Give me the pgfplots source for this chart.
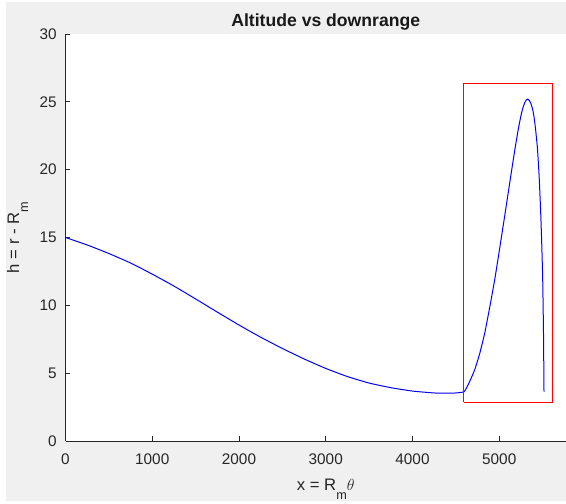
\documentclass[border=0pt]{standalone}
\usepackage{pgfplots}
\pgfplotsset{compat=1.18}
\usepackage{fontspec}
\setmainfont{Liberation Sans}

\definecolor{figbg}{HTML}{F0F0F0}
\definecolor{axink}{HTML}{262626}
\definecolor{trajblue}{HTML}{0000FF}
\definecolor{boxred}{HTML}{FF0000}

% trajectory
\pgfplotstableread{
x     h
0     15.00
250   14.45
500   13.82
750   13.12
1000  12.30
1250  11.42
1500  10.47
1750  9.50
2000  8.55
2250  7.65
2500  6.82
2750  6.05
3000  5.35
3250  4.75
3500  4.27
3750  3.93
4000  3.68
4250  3.54
4400  3.52
4500  3.54
4591  3.62
4620  3.88
4660  4.40
4717  5.25
4775  6.45
4833  7.96
4890  9.85
4948  11.90
5005  14.20
5063  16.60
5120  19.00
5178  21.40
5220  23.00
5256  24.15
5280  24.70
5300  25.02
5315  25.17
5330  25.20
5345  25.12
5360  24.95
5375  24.68
5390  24.30
5405  23.70
5420  22.90
5440  21.60
5460  19.50
5478  16.80
5490  14.50
5501  11.90
5510  8.00
5516  3.64
}\trajtable

\begin{document}
\begin{tikzpicture}[x=0.75pt,y=0.75pt]
\useasboundingbox (0,0) rectangle (566,503);
\fill[white] (0,0) rectangle (566,503);
\fill[figbg] (6,2) rectangle (566,501);
\begin{axis}[
  at={(49.125pt,46.5pt)}, anchor=origin,
  scale only axis, width=375.4pt, height=305.25pt,
  xmin=0, xmax=5770, ymin=0, ymax=30,
  axis x line*=bottom, axis y line*=left,
  axis line style={-, draw=axink, line width=0.6pt},
  axis background/.style={fill=white},
  xtick={0,1000,2000,3000,4000,5000},
  ytick={0,5,10,15,20,25,30},
  tick align=inside, major tick length=3.5pt,
  tick style={draw=axink, line width=0.6pt},
  scaled x ticks=false,
  /pgf/number format/assume math mode=true,
  /pgf/number format/1000 sep={},
  ticklabel style={font=\fontsize{11.5}{13}\selectfont, text=axink},
  xticklabel style={anchor=base}, xticklabel shift=17.25pt,
  yticklabel style={anchor=east, inner xsep=0pt}, yticklabel shift=6.4pt,
  clip=false,
]
\addplot[draw=trajblue, line width=0.75pt, mark=none, smooth, tension=0.3]
  table[x=x, y=h] {\trajtable};
% highlight box round the final climb
\addplot[draw=boxred, line width=0.75pt, mark=none] coordinates {
  (4591,2.86) (5619,2.86) (5619,26.33) (4591,26.33) (4591,2.86)};

\node[font=\bfseries\fontsize{13.2}{15}\selectfont, text=black!90, anchor=base]
  at (axis cs:3000,30) [yshift=5.25pt] {Altitude vs downrange};
\node[font=\fontsize{12.5}{14}\selectfont, text=axink, anchor=base]
  at (axis cs:3000,0) [yshift=-36.75pt]
  {x = R\raisebox{-0.55em}{\fontsize{9.5}{10}\selectfont m}$\theta$};
\end{axis}
\node[font=\fontsize{12.5}{14}\selectfont, text=axink, rotate=90, anchor=base]
  at (19,265.5)
  {h = r - R\raisebox{-0.55em}{\fontsize{9.5}{10}\selectfont m}};
\end{tikzpicture}
\end{document}
